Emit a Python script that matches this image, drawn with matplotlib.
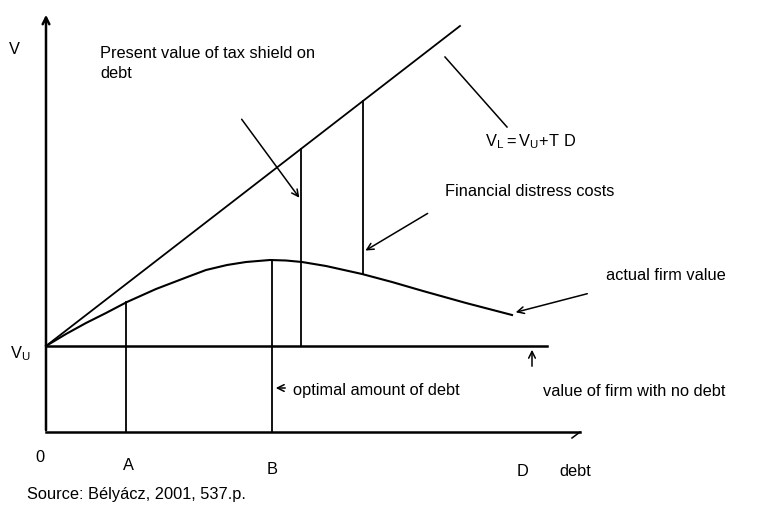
import matplotlib
matplotlib.use("Agg")
import matplotlib.pyplot as plt

# diagram units: debt to the right of the origin, firm value above it
v_unlevered = 86            # V_U
tax_rate = 0.773            # slope of V_L = V_U + T D
vl_end = 414                # where the V_L line stops

# actual firm value curve
curve_debt = [0, 20, 40, 60, 81, 110, 144, 160, 181, 200, 224, 240, 256, 280,
              316, 346, 377, 420, 466]
curve_value = [86, 98, 109, 119, 130, 143, 156, 162, 167, 170, 172, 171.5, 170, 166,
               158, 150, 141, 129, 117]

debt_a = 80
debt_b = 226
debt_tax = 255      # tax shield segment
debt_fd = 317       # distress cost segment
debt_d = 477

plt.rcParams['font.family'] = ['Liberation Sans', 'DejaVu Sans']
fs = 11.8

fig = plt.figure(figsize=(7.61, 5.15), dpi=100)
ax = fig.add_axes([0, 0, 1, 1])
ax.set_xlim(-46, 715)
ax.set_ylim(-83, 432)
ax.axis('off')

def vl(d):
    return v_unlevered + tax_rate * d

def value_at(d):
    # nearest read point on the curve
    i = min(range(len(curve_debt)), key=lambda k: abs(curve_debt[k] - d))
    return curve_value[i]

arrow = dict(arrowstyle='->', color='black', lw=1.1, mutation_scale=12)

# axes
ax.annotate('', xy=(0, 420), xytext=(0, -1), arrowprops=dict(arrow, lw=1.8))
ax.plot([0, 534], [0, 0], color='black', lw=1.8)
ax.plot([534, 526], [0, -6], color='black', lw=1.1)

# V_U line and V_L line
ax.plot([0, 501], [v_unlevered, v_unlevered], color='black', lw=1.8)
ax.plot([0, vl_end], [v_unlevered, vl(vl_end)], color='black', lw=1.3)

# actual value curve
ax.plot(curve_debt, curve_value, color='black', lw=1.5)

# vertical markers
ax.plot([debt_a, debt_a], [0, value_at(debt_a)], color='black', lw=1.3)
ax.plot([debt_b, debt_b], [0, value_at(debt_b)], color='black', lw=1.3)
ax.plot([debt_tax, debt_tax], [v_unlevered, vl(debt_tax)], color='black', lw=1.3)
ax.plot([debt_fd, debt_fd], [value_at(debt_fd), vl(debt_fd)], color='black', lw=1.3)

# pointers
ax.annotate('', xy=(debt_tax, 232), xytext=(194, 315), arrowprops=arrow)
ax.annotate('', xy=(debt_fd, 180), xytext=(384, 220), arrowprops=arrow)
ax.annotate('', xy=(467, 119), xytext=(544, 139), arrowprops=arrow)
ax.annotate('', xy=(debt_b + 1, 44), xytext=(242, 44), arrowprops=arrow)
ax.annotate('', xy=(486, 85), xytext=(486, 63), arrowprops=arrow)
ax.plot([399, 461], [375, 305], color='black', lw=1.1)

# labels
ax.text(-32, 382, 'V', fontsize=fs, ha='center', va='center')
ax.text(54, 379, 'Present value of tax shield on', fontsize=fs, va='center')
ax.text(54, 358, 'debt', fontsize=fs, va='center')
ax.text(439, 290, r'$\mathregular{V_L = V_U{+}T\ D}$', fontsize=fs, va='center')
ax.text(399, 241, 'Financial distress costs', fontsize=fs, va='center')
ax.text(560, 156, 'actual firm value', fontsize=fs, va='center')
ax.text(-36, 78, r'$\mathregular{V_U}$', fontsize=fs, va='center')
ax.text(247, 41, 'optimal amount of debt', fontsize=fs, va='center')
ax.text(497, 41, 'value of firm with no debt', fontsize=fs, va='center')
ax.text(-6, -25, '0', fontsize=fs, ha='center', va='center')
ax.text(debt_a + 2, -34, 'A', fontsize=fs, ha='center', va='center')
ax.text(debt_b, -37, 'B', fontsize=fs, ha='center', va='center')
ax.text(debt_d, -40, 'D', fontsize=fs, ha='center', va='center')
ax.text(513, -39, 'debt', fontsize=fs, va='center')
ax.text(-19, -62, 'Source: Bélyácz, 2001, 537.p.', fontsize=fs, va='center')

fig.savefig('out.png', dpi=100)
